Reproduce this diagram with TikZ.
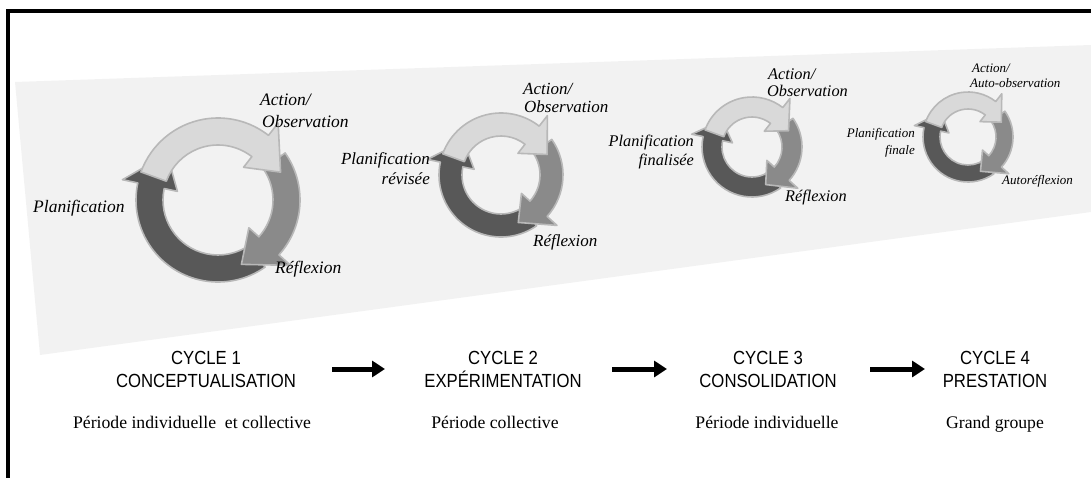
\documentclass[tikz,border=0pt]{standalone}
\usepackage{fontspec}
\setmainfont{Liberation Serif}
\newfontfamily\capfont{Liberation Sans}[FakeStretch=0.88]
\usetikzlibrary{arrows.meta}
\definecolor{bgpoly}{HTML}{F2F2F2}
\definecolor{arlight}{HTML}{D9D9D9}
\definecolor{armid}{HTML}{8A8A8A}
\definecolor{ardark}{HTML}{585858}
\definecolor{arline}{HTML}{B8B8B8}
\newcommand{\cycarrow}[8]{%
  \begin{scope}[shift={(#1,#2)}]
    \pgfmathsetmacro{\rO}{#3}
    \pgfmathsetmacro{\rI}{#4}
    \pgfmathsetmacro{\rM}{(#3+#4)/2}
    \pgfmathsetmacro{\rOf}{#3+0.58*(#3-#4)}
    \pgfmathsetmacro{\rIf}{#4-0.5*(#3-#4)}
    \path[ringarrow, fill=#8] (#5:\rO) arc[start angle=#5, end angle=#6, radius=\rO]
      -- (#6:\rOf) -- (#7:\rM) -- (#6:\rIf) -- (#6:\rI)
      arc[start angle=#6, end angle=#5, radius=\rI] -- cycle;
  \end{scope}}
\newcommand{\cycring}[4]{%
  \cycarrow{#1}{#2}{#3}{#4}{-55}{-192}{-222}{ardark}
  \cycarrow{#1}{#2}{#3}{#4}{35}{-42}{-70}{armid}
  \cycarrow{#1}{#2}{#3}{#4}{160}{52}{24}{arlight}}
\begin{document}
\begin{tikzpicture}[x=1pt,y=1pt,
  ringarrow/.style={draw=arline, line width=1.6pt, line join=round},
  lab/.style={inner sep=0pt, font=\itshape},
  labA/.style={lab, font=\fontsize{17.5}{20}\selectfont\itshape},
  labB/.style={lab, font=\fontsize{17}{20}\selectfont\itshape},
  labC/.style={lab, font=\fontsize{16.3}{19}\selectfont\itshape},
  labD/.style={lab, font=\fontsize{13}{15}\selectfont\itshape},
  cyctitle/.style={inner sep=0pt, anchor=base, font=\capfont\fontsize{19}{22}\selectfont},
  period/.style={inner sep=0pt, anchor=base, font=\fontsize{17.7}{21}\selectfont},
  flowarrow/.style={line width=5pt, -{Triangle[length=13pt,width=16pt]}}]
\useasboundingbox (0,0) rectangle (1091,-478);
% background band
\fill[bgpoly] (15,-82) -- (1091,-45) -- (1091,-212) -- (40,-355) -- cycle;
% frame
\draw[line width=4pt, line join=miter] (8,-480) -- (8,-11) -- (1095,-11);
% cycles
\cycring{218}{-200}{82}{55}
\cycring{501}{-175}{62}{39}
\cycring{752}{-147}{50}{30}
\cycring{968}{-137}{45}{28}
% cycle 1 labels
\node[labA, anchor=base west] (c1act) at (260,-106) {Action/};
\node[labA, anchor=base west] (c1obs) at (262,-128) {Observation};
\node[labA, anchor=base west] (c1pla) at (33,-213) {Planification};
\node[labA, anchor=base west] (c1ref) at (275,-273) {Réflexion};
% cycle 2 labels
\node[labB, anchor=base west] (c2act) at (523,-95) {Action/};
\node[labB, anchor=base west] (c2obs) at (524,-113) {Observation};
\node[labB, anchor=base east] (c2pla) at (430,-165) {Planification};
\node[labB, anchor=base east] (c2rev) at (430,-185) {révisée};
\node[labB, anchor=base west] (c2ref) at (533,-247) {Réflexion};
% cycle 3 labels
\node[labC, anchor=base west] (c3act) at (768,-80) {Action/};
\node[labC, anchor=base west] (c3obs) at (767,-97) {Observation};
\node[labC, anchor=base east] (c3pla) at (694,-147) {Planification};
\node[labC, anchor=base east] (c3fin) at (694,-166) {finalisée};
\node[labC, anchor=base west] (c3ref) at (785,-202) {Réflexion};
% cycle 4 labels
\node[labD, anchor=base west] (c4act) at (972,-73) {Action/};
\node[labD, anchor=base west] (c4obs) at (970,-88) {Auto-observation};
\node[labD, anchor=base east] (c4pla) at (915,-138) {Planification};
\node[labD, anchor=base east] (c4fin) at (915,-155) {finale};
\node[labD, anchor=base west] (c4ref) at (1002,-185) {Autoréflexion};
% bottom titles
\node[cyctitle] (t1a) at (206,-364) {CYCLE 1};
\node[cyctitle] (t1b) at (206,-387) {CONCEPTUALISATION};
\node[cyctitle] (t2a) at (503,-364) {CYCLE 2};
\node[cyctitle] (t2b) at (503,-387) {EXPÉRIMENTATION};
\node[cyctitle] (t3a) at (768,-364) {CYCLE 3};
\node[cyctitle] (t3b) at (768,-387) {CONSOLIDATION};
\node[cyctitle] (t4a) at (995,-364) {CYCLE 4};
\node[cyctitle] (t4b) at (995,-387) {PRESTATION};
\node[period] (p1) at (192,-428) {Période individuelle\ \ et collective};
\node[period] (p2) at (495,-428) {Période collective};
\node[period] (p3) at (767,-428) {Période individuelle};
\node[period] (p4) at (995,-428) {Grand groupe};
% flow arrows
\coordinate (f1s) at (332,-369); \coordinate (f1e) at (385,-369);
\coordinate (f2s) at (612,-369); \coordinate (f2e) at (667,-369);
\coordinate (f3s) at (870,-369); \coordinate (f3e) at (925,-369);
\draw[flowarrow] (f1s) -- (f1e);
\draw[flowarrow] (f2s) -- (f2e);
\draw[flowarrow] (f3s) -- (f3e);
\end{tikzpicture}
\end{document}
